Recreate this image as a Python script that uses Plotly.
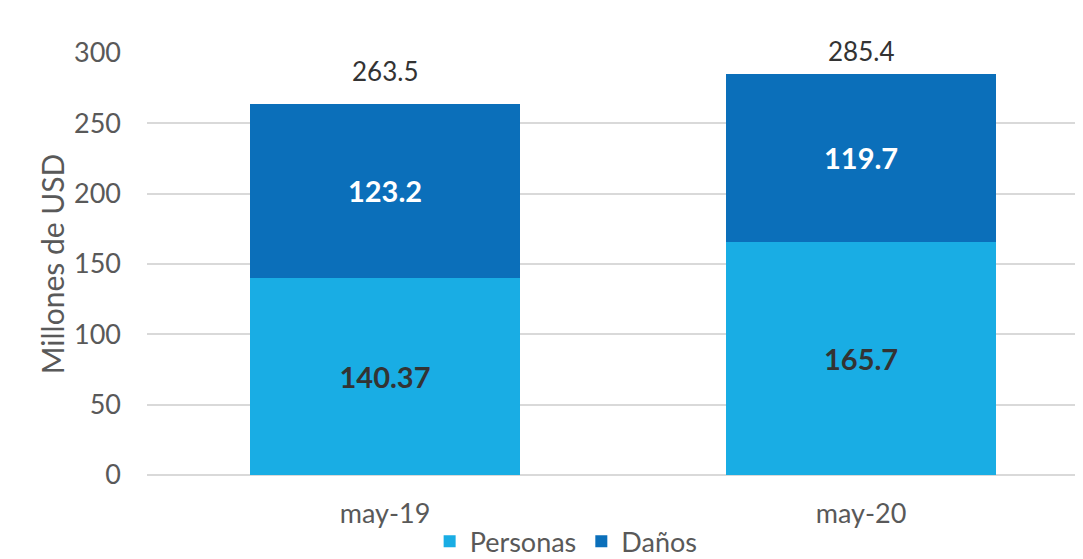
import plotly.graph_objects as go

categories = ["may-19", "may-20"]
personas = [140.37, 165.7]
danos = [123.2, 119.7]
personas_labels = ["140.37", "165.7"]
danos_labels = ["123.2", "119.7"]
totals = [263.5, 285.4]
total_labels = ["263.5", "285.4"]

FONT = "Lato, Carlito, Calibri, sans-serif"
C_LIGHT = "#19ADE4"
C_DARK = "#0B6FBA"
GREY = "#595959"

fig = go.Figure()
fig.add_trace(go.Bar(
    x=categories, y=personas, name="Personas", marker_color=C_LIGHT,
    text=personas_labels, textposition="inside", insidetextanchor="middle",
    textfont=dict(family=FONT, size=29, color="#333333", weight="bold"),
    width=0.567, marker_line_width=0,
))
fig.add_trace(go.Bar(
    x=categories, y=danos, name="Daños", marker_color=C_DARK,
    text=danos_labels, textposition="inside", insidetextanchor="middle",
    textfont=dict(family=FONT, size=29, color="white", weight="bold"),
    width=0.567, marker_line_width=0,
))

shifts = [15, 5]
for c, t, lab, s in zip(categories, totals, total_labels, shifts):
    fig.add_annotation(x=c, y=t, text=lab, showarrow=False, yanchor="bottom",
                       yshift=s, font=dict(family=FONT, size=26, color="#333333"))

fig.update_layout(
    barmode="stack",
    width=1083, height=559,
    margin=dict(l=139, r=0, t=45, b=92, autoexpand=False),
    paper_bgcolor="white", plot_bgcolor="white",
    font=dict(family=FONT, color=GREY, size=27),
    uniformtext=dict(mode=False),
    legend=dict(orientation="h", x=0.444, xanchor="center", y=-0.158, yanchor="middle",
                font=dict(family=FONT, size=27, color=GREY),
                itemwidth=30, traceorder="normal"),
)
fig.update_xaxes(type="category", range=[-0.5, 1.483], showgrid=False, automargin=False,
                 showline=False, ticks="", ticklabelstandoff=20,
                 tickfont=dict(family=FONT, size=27, color=GREY))
fig.update_yaxes(range=[0, 300], dtick=50, showgrid=True, gridcolor="#D9D9D9", gridwidth=2,
                 zeroline=True, zerolinecolor="#D9D9D9", zerolinewidth=2, automargin=False,
                 showline=False, ticks="", ticklabelstandoff=25,
                 tickfont=dict(family=FONT, size=27, color=GREY),
                 title=dict(text="Millones de USD", font=dict(family=FONT, size=30, color=GREY), standoff=0))

fig.write_html("out.html")
